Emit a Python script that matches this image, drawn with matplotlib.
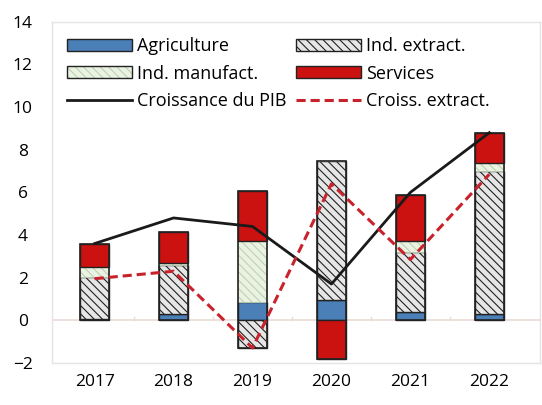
import matplotlib.pyplot as plt
from matplotlib.patches import Patch
import numpy as np

plt.rcParams['font.family'] = ['Open Sans', 'DejaVu Sans']
plt.rcParams['hatch.linewidth'] = 0.8

years = ['2017', '2018', '2019', '2020', '2021', '2022']
agriculture = [0.05, 0.3, 0.85, 0.95, 0.4, 0.3]
ind_extract = [2.0, 2.3, -1.3, 6.5, 2.8, 6.7]
ind_manufact = [0.45, 0.1, 2.85, 0.0, 0.5, 0.4]
services = [1.1, 1.45, 2.35, -1.8, 2.2, 1.4]
croissance_pib = [3.6, 4.8, 4.4, 1.7, 6.0, 8.8]
croiss_extract = [1.95, 2.3, -1.3, 6.4, 2.85, 6.85]

x = np.arange(len(years))
width = 0.36

fig = plt.figure(figsize=(5.42, 4.05), dpi=100)
ax = fig.add_axes([0.096, 0.104, 0.9, 0.842])

series = [
    ('Agriculture', agriculture, dict(color='#4a7fb8', hatch=None)),
    ('Ind. extract.', ind_extract, dict(color='#e6e6e6', hatch='\\\\\\\\')),
    ('Ind. manufact.', ind_manufact, dict(color='#eaf3e2', hatch='\\\\\\\\')),
    ('Services', services, dict(color='#cc1111', hatch=None)),
]

pos_base = np.zeros(len(years))
neg_base = np.zeros(len(years))
bars = {}
for label, vals, style in series:
    vals = np.array(vals)
    bottom = np.where(vals >= 0, pos_base, neg_base)
    b = ax.bar(x, vals, width, bottom=bottom, color=style['color'],
               hatch=style['hatch'], edgecolor='#222222', linewidth=1.0,
               label=label, zorder=3)
    if label == 'Ind. manufact.':
        for p in b:
            p.set_edgecolor('#bfcfb5')
            p.set_linewidth(0.6)
    bars[label] = b
    pos_base = pos_base + np.where(vals >= 0, vals, 0)
    neg_base = neg_base + np.where(vals < 0, vals, 0)

# outline each stacked column
for i in range(len(years)):
    ax.bar(x[i], pos_base[i] - neg_base[i], width, bottom=neg_base[i],
           fill=False, edgecolor='#222222', linewidth=1.2, zorder=4)

gdp, = ax.plot(x, croissance_pib, color='#1a1a1a', linewidth=2.0,
               label='Croissance du PIB', zorder=5)
cx, = ax.plot(x, croiss_extract, color='#c8232c', linewidth=2.2,
              linestyle=(0, (3, 1.6)), label='Croiss. extract.', zorder=5)

ax.axhline(0, color='#ead9d4', linewidth=1.2, zorder=1)
for xb in x[:-1] + 0.5:
    ax.plot([xb, xb], [0, 0.15], color='#ead9d4', linewidth=1.0, zorder=1)

ax.set_xlim(-0.54, 5.64)
ax.set_ylim(-2, 14)
ax.set_yticks(range(-2, 15, 2))
ax.set_xticks(x)
ax.set_xticklabels(years)
ax.tick_params(length=0, labelsize=12.5, pad=8)
ax.tick_params(axis='y', pad=21)
for lab in ax.get_yticklabels():
    lab.set_horizontalalignment('center')
for s in ax.spines.values():
    s.set_color('#e4e4e4')
    s.set_linewidth(1.0)

# manufact legend key: light hatched fill with a dark border on top
manuf_key = (bars['Ind. manufact.'],
             Patch(facecolor='none', edgecolor='#222222', linewidth=1.0))
handles = [bars['Agriculture'], manuf_key, gdp,
           bars['Ind. extract.'], bars['Services'], cx]
labels = ['Agriculture', 'Ind. manufact.', 'Croissance du PIB',
          'Ind. extract.', 'Services', 'Croiss. extract.']
ax.legend(handles, labels, ncol=2, loc='upper left', frameon=False,
          fontsize=13, handlelength=3.6, handleheight=0.65,
          handletextpad=0.3, columnspacing=0.5, labelspacing=0.52,
          borderaxespad=0.0, bbox_to_anchor=(0.015, 0.976))

fig.savefig('out.png', dpi=100)
